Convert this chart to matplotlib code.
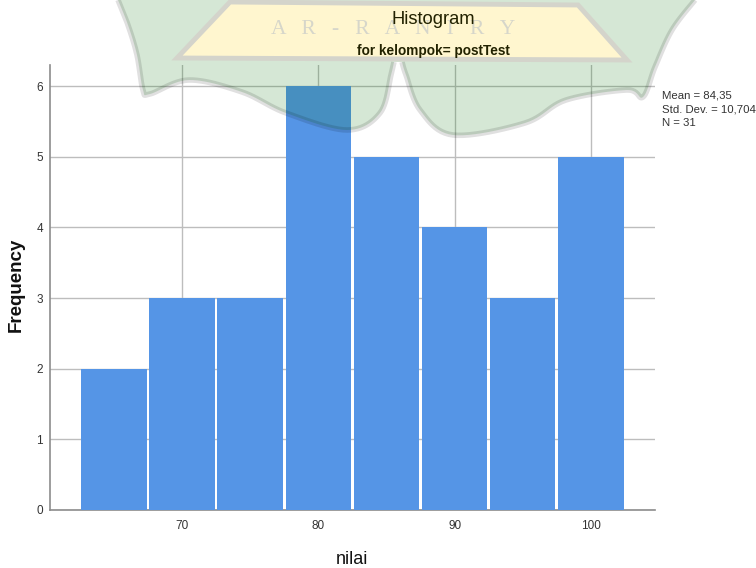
import numpy as np
import matplotlib
matplotlib.use("Agg")
import matplotlib.pyplot as plt
from matplotlib.patches import Polygon

bin_centers = [65, 70, 75, 80, 85, 90, 95, 100]
frequencies = [2, 3, 3, 6, 5, 4, 3, 5]
bar_width = 4.8
x_ticks = [70, 80, 90, 100]
y_ticks = [0, 1, 2, 3, 4, 5, 6]
stats = "Mean = 84,35\nStd. Dev. = 10,704\nN = 31"

W, H = 756, 568
plt.rcParams["font.family"] = ["Liberation Sans", "DejaVu Sans"]
fig = plt.figure(figsize=(W / 100, H / 100), dpi=100, facecolor="white")

L, R, T, B = 50, 655, 65, 510
ax = fig.add_axes([L / W, 1 - B / H, (R - L) / W, (B - T) / H])
ax.set_xlim(60.32, 104.7)
ax.set_ylim(0, 6.3)
ax.set_axisbelow(True)
ax.grid(True, color="#bdbdbd", lw=1)
ax.bar(bin_centers, frequencies, width=bar_width, align="center",
       color="#5595e6", edgecolor="none", zorder=3)
ax.set_xticks(x_ticks)
ax.set_yticks(y_ticks)
ax.tick_params(length=0, labelsize=8.5, colors="#333333", pad=7)
ax.tick_params(axis="y", pad=5)
for s in ("top", "right"):
    ax.spines[s].set_visible(False)
for s in ("left", "bottom"):
    ax.spines[s].set_color("#8c8c8c")
    ax.spines[s].set_linewidth(1.2)


def smooth(pts, n=12):
    """Catmull-Rom outline for the decorative watermark shape."""
    p = np.array([pts[0]] + pts + [pts[-1]], float)
    out = []
    for i in range(1, len(p) - 2):
        for t in np.linspace(0, 1, n, endpoint=False):
            out.append(0.5 * (2 * p[i] + (p[i + 1] - p[i - 1]) * t
                              + (2 * p[i - 1] - 5 * p[i] + 4 * p[i + 1] - p[i + 2]) * t ** 2
                              + (3 * p[i] - p[i - 1] - 3 * p[i + 1] + p[i + 2]) * t ** 3))
    out.append(p[-2])
    return np.array(out)


# Overlay in pixel coordinates for the watermark
ov = fig.add_axes([0, 0, 1, 1], zorder=5)
ov.set_xlim(0, W)
ov.set_ylim(H, 0)
ov.axis("off")
left = smooth([(118, 0), (128, 25), (137, 55), (143, 90), (150, 94), (189, 80), (242, 92),
               (286, 113), (347, 130), (380, 113), (391, 75), (394, 62)])
right = smooth([(402, 62), (406, 75), (420, 110), (453, 135), (525, 123), (566, 100),
                (627, 90), (643, 97), (655, 67), (672, 30), (695, 0)])
lobe = np.vstack([left, right])
ov.add_patch(Polygon(lobe, closed=True, facecolor=(0, 115 / 255, 0), alpha=0.165,
                     edgecolor="none", zorder=1))
for part in (left, right):
    ov.plot(part[:, 0], part[:, 1], color="black", alpha=0.12, lw=4, zorder=2,
            solid_capstyle="butt")
trap = [(230, 2), (578, 5), (627, 60), (177, 58)]
ov.add_patch(Polygon(trap, closed=True, facecolor="#fff6cf", edgecolor="#d4d4cb",
                     lw=3.5, zorder=3))
ov.text(393, 30, "A   R   -   R   A   N   I   R   Y", family="Liberation Serif", fontsize=15.5,
        color="#d6d6ca", ha="center", va="center", zorder=4)

ov.text(433, 19.5, "Histogram", fontsize=13.2, color="#222200", ha="center", va="center", zorder=6)
ov.text(433, 51, "for kelompok= postTest", fontsize=9.8, fontweight="bold",
        color="#222200", ha="center", va="center", zorder=6)
ov.text(662, 109, stats, fontsize=8.2, color="#333333", ha="left", va="center",
        linespacing=1.45, zorder=6)
ov.text(16, 285, "Frequency", fontsize=13.5, fontweight="bold", color="#111111",
        rotation=90, ha="center", va="center", zorder=6)
ov.text(352, 559, "nilai", fontsize=13, color="#111111", ha="center", va="center", zorder=6)

fig.savefig("out.png", dpi=100)
